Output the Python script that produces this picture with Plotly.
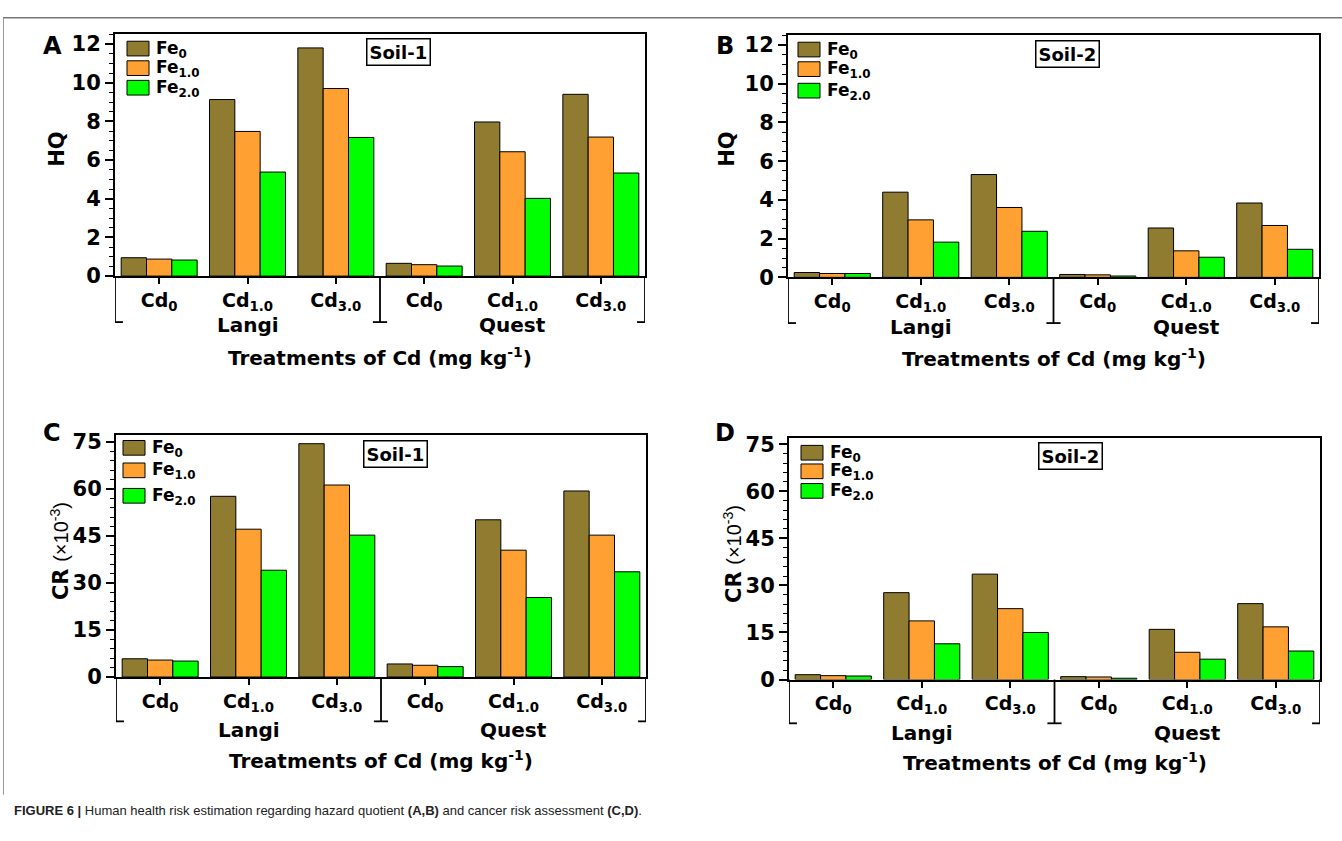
import plotly.graph_objects as go

# ---------------- data ----------------
groups = ["Langi", "Quest"]
cd_levels = ["Cd<sub>0</sub>", "Cd<sub>1.0</sub>", "Cd<sub>3.0</sub>"]
fe_levels = ["Fe<sub>0</sub>", "Fe<sub>1.0</sub>", "Fe<sub>2.0</sub>"]
tick_labels = cd_levels + cd_levels

hq_soil1_fe0 = [0.95, 9.13, 11.80, 0.66, 7.97, 9.40]
hq_soil1_fe1 = [0.88, 7.48, 9.70, 0.59, 6.43, 7.19]
hq_soil1_fe2 = [0.83, 5.38, 7.17, 0.52, 4.02, 5.33]

hq_soil2_fe0 = [0.25, 4.40, 5.31, 0.15, 2.55, 3.84]
hq_soil2_fe1 = [0.20, 2.97, 3.61, 0.13, 1.37, 2.68]
hq_soil2_fe2 = [0.20, 1.82, 2.38, 0.07, 1.04, 1.45]

cr_soil1_fe0 = [5.83, 57.7, 74.5, 4.17, 50.2, 59.4]
cr_soil1_fe1 = [5.42, 47.2, 61.3, 3.75, 40.5, 45.3]
cr_soil1_fe2 = [5.10, 34.1, 45.3, 3.33, 25.4, 33.6]

cr_soil2_fe0 = [1.56, 27.7, 33.6, 0.93, 16.0, 24.2]
cr_soil2_fe1 = [1.25, 18.7, 22.6, 0.83, 8.7, 16.8]
cr_soil2_fe2 = [1.14, 11.4, 15.0, 0.42, 6.5, 9.1]

# ---------------- styling ----------------
W, H = 1342, 841
FONT = "DejaVu Sans, Arial, sans-serif"
CAPFONT = "Liberation Sans, Arial, sans-serif"
colors = ["#907C30", "#FFA033", "#00FF00"]
CR_TITLE = ("<b>CR</b> <span style='font-family:Liberation Sans, Arial; font-size:20px'>"
            "(×10<sup>-3</sup>)</span>")


def px(x):
    return x / W


def py(y):
    return 1 - y / H


panels = [
    dict(letter="A", soil="Soil-1", ytitle="<b>HQ</b>",
         series=[hq_soil1_fe0, hq_soil1_fe1, hq_soil1_fe2],
         xd=(115, 645), yd=(29, 276), yrange=12.5, dtick=2, minor=0.5,
         letter_pos=(52, 41), ytitle_pos=(57, 147), soil_pos=(398, 47),
         leg=(127, [36, 56, 76]), langi_y=326, treat_y=359, bracket_y=323),
    dict(letter="B", soil="Soil-2", ytitle="<b>HQ</b>",
         series=[hq_soil2_fe0, hq_soil2_fe1, hq_soil2_fe2],
         xd=(788, 1319), yd=(30, 277.3), yrange=12.5, dtick=2, minor=0.5,
         letter_pos=(725, 41), ytitle_pos=(727, 147), soil_pos=(1067, 49),
         leg=(798, [37, 57, 79]), langi_y=328, treat_y=360, bracket_y=324),
    dict(letter="C", soil="Soil-1", ytitle=CR_TITLE,
         series=[cr_soil1_fe0, cr_soil1_fe1, cr_soil1_fe2],
         xd=(116, 646), yd=(438.3, 685.7), yrange=77.3, dtick=15, minor=3,
         letter_pos=(52, 436), ytitle_pos=(60, 557), soil_pos=(395, 458),
         leg=(123, [444, 467, 493]), langi_y=740, treat_y=770, bracket_y=731),
    dict(letter="D", soil="Soil-2", ytitle=CR_TITLE,
         series=[cr_soil2_fe0, cr_soil2_fe1, cr_soil2_fe2],
         xd=(789, 1320), yd=(441.7, 688.3), yrange=76.9, dtick=15, minor=3,
         letter_pos=(725, 436), ytitle_pos=(733, 560), soil_pos=(1070, 460),
         leg=(801, [449, 468, 488]), langi_y=743, treat_y=773, bracket_y=733),
]

fig = go.Figure()
shapes = []
annotations = []
xpos = list(range(len(tick_labels)))

for i, p in enumerate(panels):
    n = "" if i == 0 else str(i + 1)
    xa, ya = "x" + n, "y" + n
    for s, (vals, col, name) in enumerate(zip(p["series"], colors, fe_levels)):
        fig.add_trace(go.Bar(
            x=xpos, y=vals, name=name, marker=dict(color=col, line=dict(color="black", width=1)),
            offsetgroup=str(s), xaxis=xa, yaxis=ya, showlegend=False))

    fig.layout["xaxis" + n] = dict(
        domain=[px(p["xd"][0]), px(p["xd"][1])], anchor=ya, range=[-0.5, 5.5],
        tickmode="array", tickvals=xpos, ticktext=tick_labels,
        ticks="outside", ticklen=6, tickwidth=1.5, tickcolor="black",
        showline=True, linecolor="black", linewidth=2, mirror=True,
        showgrid=False, zeroline=False,
        tickfont=dict(family=FONT, size=19, color="black", weight="bold"))
    fig.layout["yaxis" + n] = dict(
        domain=[py(p["yd"][1]), py(p["yd"][0])], anchor=xa, range=[0, p["yrange"]],
        dtick=p["dtick"], tick0=0, ticks="outside", ticklen=8, tickwidth=1.5, tickcolor="black",
        minor=dict(dtick=p["minor"], tick0=0, ticks="outside", ticklen=4, tickwidth=1, tickcolor="black"),
        showline=True, linecolor="black", linewidth=2, mirror=True,
        showgrid=False, zeroline=False,
        tickfont=dict(family=FONT, size=21, color="black", weight="bold"))

    # bracket under categories
    by = py(p["bracket_y"])
    ab = py(p["yd"][1])
    for xv in (-0.5, 2.5, 5.5):
        shapes.append(dict(type="line", xref=xa, yref="paper", x0=xv, x1=xv, y0=ab, y1=by,
                           line=dict(color="black", width=1.8)))
    shapes.append(dict(type="line", xref=xa, yref="paper", x0=-0.5, x1=-0.41, y0=by, y1=by,
                       line=dict(color="black", width=1.8)))
    shapes.append(dict(type="line", xref=xa, yref="paper", x0=2.42, x1=2.58, y0=by, y1=by,
                       line=dict(color="black", width=1.8)))
    shapes.append(dict(type="line", xref=xa, yref="paper", x0=5.41, x1=5.5, y0=by, y1=by,
                       line=dict(color="black", width=1.8)))

    # group labels
    for g, xc in zip(groups, (1, 4)):
        annotations.append(dict(x=xc, y=py(p["langi_y"]), xref=xa, yref="paper", text="<b>%s</b>" % g,
                                showarrow=False, font=dict(family=FONT, size=20, color="black"),
                                xanchor="center", yanchor="middle"))
    annotations.append(dict(x=2.5, y=py(p["treat_y"]), xref=xa, yref="paper",
                            text="<b>Treatments of Cd (mg kg<sup>-1</sup>)</b>",
                            showarrow=False, font=dict(family=FONT, size=20, color="black"),
                            xanchor="center", yanchor="middle"))

    # panel letter
    annotations.append(dict(x=px(p["letter_pos"][0]), y=py(p["letter_pos"][1]), xref="paper", yref="paper",
                            text="<b>%s</b>" % p["letter"], showarrow=False,
                            font=dict(family=FONT, size=24, color="black"), xanchor="center", yanchor="middle"))
    # y title
    annotations.append(dict(x=px(p["ytitle_pos"][0]), y=py(p["ytitle_pos"][1]), xref="paper", yref="paper",
                            text=p["ytitle"], textangle=-90, showarrow=False,
                            font=dict(family=FONT, size=21, color="black"), xanchor="center", yanchor="middle"))
    # soil box
    annotations.append(dict(x=px(p["soil_pos"][0]), y=py(p["soil_pos"][1]), xref="paper", yref="paper",
                            text="<b>%s</b>" % p["soil"], showarrow=False, bordercolor="black", borderwidth=1.5,
                            borderpad=2, bgcolor="white",
                            font=dict(family=FONT, size=18, color="black"), xanchor="center", yanchor="middle"))
    # manual legend
    lx, lys = p["leg"]
    for ly, col, name in zip(lys, colors, fe_levels):
        shapes.append(dict(type="rect", xref="paper", yref="paper", x0=px(lx), x1=px(lx + 22),
                           y0=py(ly), y1=py(ly + 15), fillcolor=col, line=dict(color="black", width=1)))
        annotations.append(dict(x=px(lx + 27), y=py(ly + 8), xref="paper", yref="paper",
                                text="<b>%s</b>" % name, showarrow=False,
                                font=dict(family=FONT, size=17, color="black"), xanchor="left", yanchor="middle"))

# journal frame lines
shapes.append(dict(type="line", xref="paper", yref="paper", x0=px(3), x1=1, y0=py(12), y1=py(12),
                   line=dict(color="#777777", width=1.5)))
shapes.append(dict(type="line", xref="paper", yref="paper", x0=px(3.5), x1=px(3.5), y0=py(12), y1=py(806),
                   line=dict(color="#999999", width=1)))

annotations.append(dict(x=px(12), y=py(822), xref="paper", yref="paper",
                        text="<b>FIGURE 6 |</b> Human health risk estimation regarding hazard quotient <b>(A,B)</b> "
                             "and cancer risk assessment <b>(C,D)</b>.",
                        showarrow=False, font=dict(family=CAPFONT, size=13, color="#222222"),
                        xanchor="left", yanchor="middle"))

fig.update_layout(
    width=W, height=H, margin=dict(l=0, r=0, t=0, b=0),
    paper_bgcolor="white", plot_bgcolor="white",
    barmode="group", bargap=0.14, bargroupgap=0,
    shapes=shapes, annotations=annotations, showlegend=False,
    font=dict(family=FONT, color="black"),
)

fig.write_html("out.html")
